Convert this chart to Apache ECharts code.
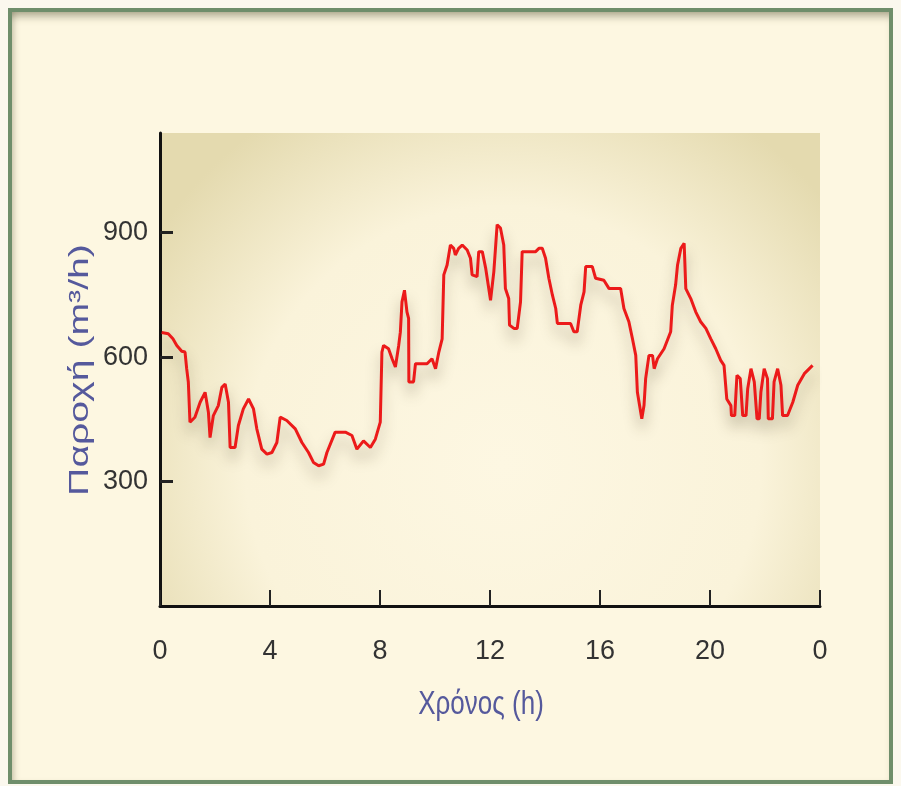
<!DOCTYPE html>
<html>
<head>
<meta charset="utf-8">
<script src="https://cdn.jsdelivr.net/npm/echarts@6/dist/echarts.min.js"></script>
<style>
  html, body { margin: 0; padding: 0; background: #fbf8ee; }
  #frame { position: absolute; left: 8px; top: 8px; width: 877px; height: 768px;
           border: 4px solid #6f8e6b; background: #fdf7e1;
           box-shadow: inset 0 9px 9px -5px rgba(70,70,40,0.45), inset 6px 0 6px -4px rgba(70,70,40,0.25); z-index: 0; }
  #chart { position: absolute; left: 0; top: 0; width: 901px; height: 786px; z-index: 1; }
</style>
</head>
<body>
<div id="frame"></div>
<div id="chart"></div>
<script>
// Time (h) and flow (m3/h)
const hours = [0.06,0.30,0.47,0.61,0.79,0.91,0.97,1.03,1.09,1.27,1.46,1.64,1.76,1.82,1.94,2.12,2.25,2.37,2.49,2.55,2.73,2.85,3.03,3.22,3.40,3.52,3.70,3.89,4.07,4.25,4.37,4.61,4.92,5.16,5.40,5.58,5.77,5.95,
  6.07,6.37,6.74,6.98,7.16,7.40,7.65,7.83,8.01,8.07,8.13,8.31,8.44,8.56,8.68,8.74,8.80,8.89,8.98,9.04,9.05,9.22,9.29,9.71,9.89,10.02,10.14,10.26,10.32,10.44,10.56,10.68,10.74,10.86,10.99,11.17,11.29,11.35,11.53,11.59,11.72,11.84,12.02,
  12.14,12.26,12.38,12.50,12.56,12.68,12.71,12.87,12.99,13.11,13.17,13.66,13.78,13.90,14.02,14.14,14.27,14.39,14.45,14.93,15.05,15.17,15.30,15.42,15.48,15.72,15.84,16.14,16.33,16.75,16.87,17.05,17.18,17.30,17.36,17.44,17.52,17.60,17.66,17.78,17.91,17.97,
  18.09,18.33,18.57,18.63,18.75,18.82,18.94,19.06,19.12,19.30,19.48,19.66,19.85,20.03,20.21,20.39,20.51,20.61,20.76,20.78,20.90,20.98,21.10,21.19,21.31,21.37,21.49,21.61,21.71,21.79,21.85,21.97,22.09,22.12,22.27,22.33,22.46,22.58,22.64,22.82,23.01,23.19,23.43,23.73];
const flow = [659,656,644,628,614,612,572,540,443,455,491,515,467,406,459,483,527,535,491,382,382,435,475,499,475,427,378,366,370,394,455,447,427,394,370,346,338,342,
  370,419,419,411,378,398,382,402,443,612,628,620,596,576,628,660,733,761,709,693,540,540,584,584,596,572,612,644,798,822,870,862,846,862,870,858,838,798,794,854,854,815,737,
  806,919,911,870,765,741,677,669,669,733,854,854,862,862,838,790,749,717,681,681,661,661,725,757,818,818,790,785,765,765,717,685,644,604,515,483,451,483,548,604,604,572,
  596,620,661,725,774,822,862,874,765,741,709,685,669,644,620,592,580,499,483,459,459,556,548,459,459,523,572,540,451,451,515,572,548,451,451,540,572,532,459,459,491,532,560,580];
const xTicks = [0, 4, 8, 12, 16, 20, 24];
const xTickLabels = ['0', '4', '8', '12', '16', '20', '0'];
const yTicks = [300, 600, 900];
const xName = 'Χρόνος (h)';
const yName = 'Παροχή (m³/h)';

const seriesData = hours.map((h, i) => [h, flow[i]]);
const font = "'Liberation Sans', Arial, sans-serif";
const titleColor = '#55599c';

const chart = echarts.init(document.getElementById('chart'), null, { renderer: 'canvas' });
chart.setOption({
  backgroundColor: 'transparent',
  animation: false,
  grid: {
    left: 160, right: 81, top: 133, bottom: 180,
    show: true, borderWidth: 0,
    backgroundColor: {
      type: 'radial', x: 0.52, y: 0.7, r: 0.88,
      colorStops: [
        { offset: 0, color: '#fdf7e2' },
        { offset: 0.62, color: '#faf3da' },
        { offset: 1, color: '#e4daaf' }
      ]
    }
  },
  graphic: [{
    type: 'text',
    x: 80, y: 370,
    rotation: Math.PI / 2,
    scaleX: 1.4,
    style: { text: yName, fill: titleColor, fontSize: 28, fontFamily: font, align: 'center', verticalAlign: 'middle' },
    z: 10
  }, {
    type: 'text',
    x: 481, y: 705,
    scaleY: 1.28,
    style: { text: xName, fill: titleColor, fontSize: 26, fontFamily: font, align: 'center', verticalAlign: 'middle' },
    z: 10
  }],
  xAxis: {
    type: 'value', min: 0, max: 24, interval: 4,
    axisLine: { show: true, onZero: false, lineStyle: { color: '#111', width: 3 } },
    axisTick: { show: true, inside: true, length: 16, lineStyle: { color: '#222', width: 2 }, customValues: xTicks },
    axisLabel: { color: '#333', fontSize: 27, fontFamily: font, margin: 32,
      customValues: xTicks,
      formatter: v => xTickLabels[xTicks.indexOf(v)] ?? '' },
    splitLine: { show: false }
  },
  yAxis: {
    type: 'value', min: 0, max: 1140,
    axisLine: { show: true, onZero: false, lineStyle: { color: '#111', width: 3 } },
    axisTick: { show: true, inside: true, length: 13, lineStyle: { color: '#222', width: 3 }, customValues: yTicks },
    axisLabel: { color: '#333', fontSize: 27, fontFamily: font, margin: 12, customValues: yTicks },
    splitLine: { show: false }
  },
  series: [{
    type: 'line',
    data: seriesData,
    showSymbol: false,
    lineStyle: { color: '#ec1a1a', width: 3,
      shadowColor: 'rgba(60,50,20,0.35)', shadowBlur: 14, shadowOffsetY: 10 },
    itemStyle: { color: '#ec1a1a' }
  }]
});
</script>
</body>
</html>
